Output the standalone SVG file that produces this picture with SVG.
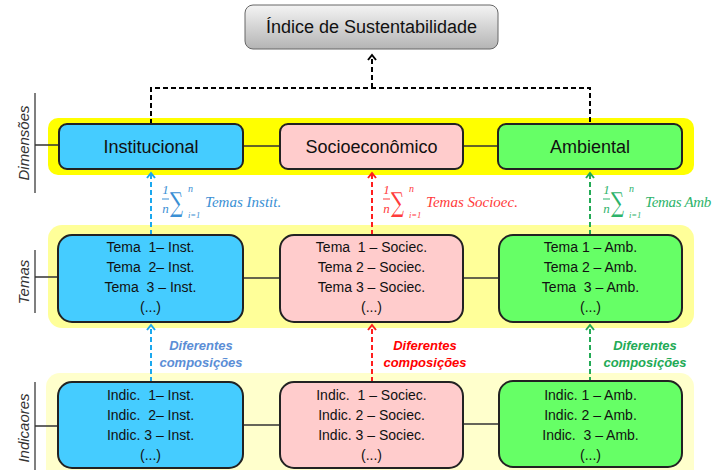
<svg xmlns="http://www.w3.org/2000/svg" width="712" height="470" viewBox="0 0 712 470">
<defs>
<linearGradient id="gGray" x1="0" y1="0" x2="0" y2="1">
<stop offset="0" stop-color="#F4F4F4"/>
<stop offset="1" stop-color="#B4B4B4"/>
</linearGradient>
<marker id="mBlack" viewBox="-1 -1 8 10" refX="5" refY="4" markerWidth="8" markerHeight="10" markerUnits="userSpaceOnUse" orient="auto"><path d="M0,0 L5,4 L0,8" fill="none" stroke="#000" stroke-width="2"/></marker>
<marker id="mBlue" viewBox="-1 -1 8 10" refX="5" refY="4" markerWidth="8" markerHeight="10" markerUnits="userSpaceOnUse" orient="auto"><path d="M0,0 L5,4 L0,8" fill="none" stroke="#1AA8EE" stroke-width="2"/></marker>
<marker id="mRed" viewBox="-1 -1 8 10" refX="5" refY="4" markerWidth="8" markerHeight="10" markerUnits="userSpaceOnUse" orient="auto"><path d="M0,0 L5,4 L0,8" fill="none" stroke="#FF1E1E" stroke-width="2"/></marker>
<marker id="mGreen" viewBox="-1 -1 8 10" refX="5" refY="4" markerWidth="8" markerHeight="10" markerUnits="userSpaceOnUse" orient="auto"><path d="M0,0 L5,4 L0,8" fill="none" stroke="#22AA55" stroke-width="2"/></marker>
</defs>
<style>
.band1{fill:#FFFF00}
.band2{fill:#FFFF99}
.band3{fill:#FFFFCC}
.box{stroke:#222;stroke-width:2}
.blue{fill:#45CCFF}
.pink{fill:#FFCCCC}
.green{fill:#66FF66}
.dim{font-family:"Liberation Sans",Arial,sans-serif;font-size:18px;fill:#111;text-anchor:middle}
.ln{font-family:"Liberation Sans",Arial,sans-serif;font-size:14px;fill:#111;text-anchor:middle;white-space:pre}
.ax{font-family:"Liberation Sans",Arial,sans-serif;font-size:15px;font-style:italic;fill:#333;text-anchor:middle}
.axl{stroke:#555;stroke-width:1.5;fill:none}
.conn{stroke:#333;stroke-width:1.5;fill:none}
.dash{fill:none;stroke-width:2;stroke-dasharray:5 3}
.f{font-family:"Liberation Serif","DejaVu Serif",serif;font-style:italic}
.sig{font-family:"DejaVu Serif",serif;font-size:26px}
.comp{font-family:"Liberation Sans",Arial,sans-serif;font-size:13px;font-weight:bold;font-style:italic;text-anchor:middle}
</style>

<!-- top node -->
<g id="indice">
<rect x="245" y="5" width="253" height="44" rx="8" fill="url(#gGray)" stroke="#666" stroke-width="1"/>
<text class="dim" x="371.5" y="33" fill="#222">Índice de Sustentabilidade</text>
</g>

<!-- bands -->
<rect class="band1" x="48" y="118" width="646" height="57" rx="10"/>
<rect class="band2" x="48" y="225" width="646" height="103" rx="14"/>
<rect class="band3" x="46" y="373" width="648" height="110" rx="14"/>

<!-- axis labels -->
<g id="axis-dimensoes">
<path class="axl" d="M35,93 V193"/>
<text class="ax" transform="translate(29,143) rotate(-90)">Dimensões</text>
</g>
<g id="axis-temas">
<path class="axl" d="M35,250 V313"/>
<text class="ax" transform="translate(29,282) rotate(-90)">Temas</text>
</g>
<g id="axis-indicadores">
<path class="axl" d="M35,382 V470"/>
<text class="ax" transform="translate(29,428) rotate(-90)">Indicaores</text>
</g>

<!-- connectors -->
<g id="connectors">
<path class="conn" d="M35,145 H59 M243,146 H280 M463,146 H498"/>
<path class="conn" d="M35,277 H58 M243,278 H280 M463,278 H499"/>
<path class="conn" d="M35,426 H58 M243,425 H280 M463,424 H499"/>
<path class="dash" stroke="#000" d="M151,124 V88 H590 V124"/>
<path class="dash" stroke="#000" d="M372,88 V55" marker-end="url(#mBlack)"/>
<path class="dash" stroke="#1AA8EE" d="M151,235 V173" marker-end="url(#mBlue)"/>
<path class="dash" stroke="#FF1E1E" d="M372,235 V173" marker-end="url(#mRed)"/>
<path class="dash" stroke="#22AA55" d="M590,235 V173" marker-end="url(#mGreen)"/>
<path class="dash" stroke="#1AA8EE" d="M151,382 V325" marker-end="url(#mBlue)"/>
<path class="dash" stroke="#FF1E1E" d="M372,382 V325" marker-end="url(#mRed)"/>
<path class="dash" stroke="#22AA55" d="M590,382 V325" marker-end="url(#mGreen)"/>
</g>

<!-- formulas -->
<g id="formula-inst" transform="translate(162,0)" fill="#3A8FD4">
<text class="f" x="3.5" y="194" font-size="13" font-style="normal" text-anchor="middle">1</text>
<path d="M0,199 H7" stroke="#3A8FD4" stroke-width="1"/>
<text class="f" x="3.5" y="213" font-size="13" text-anchor="middle">n</text>
<text class="sig" transform="translate(8,212) scale(0.7,1.05)">∑</text>
<text class="f" x="26" y="192" font-size="10">n</text>
<text class="f" x="26" y="218" font-size="8.5">i=1</text>
<text class="f" x="43" y="207" font-size="15">Temas Instit.</text>
</g>
<g id="formula-soc" transform="translate(383,0)" fill="#FF3B3B">
<text class="f" x="3.5" y="194" font-size="13" font-style="normal" text-anchor="middle">1</text>
<path d="M0,199 H7" stroke="#FF3B3B" stroke-width="1"/>
<text class="f" x="3.5" y="213" font-size="13" text-anchor="middle">n</text>
<text class="sig" transform="translate(8,212) scale(0.7,1.05)">∑</text>
<text class="f" x="26" y="192" font-size="10">n</text>
<text class="f" x="26" y="218" font-size="8.5">i=1</text>
<text class="f" x="43" y="207" font-size="15">Temas Socioec.</text>
</g>
<g id="formula-amb" transform="translate(603,0)" fill="#2DB36A">
<text class="f" x="3.5" y="194" font-size="13" font-style="normal" text-anchor="middle">1</text>
<path d="M0,199 H7" stroke="#2DB36A" stroke-width="1"/>
<text class="f" x="3.5" y="213" font-size="13" text-anchor="middle">n</text>
<text class="sig" transform="translate(8,212) scale(0.7,1.05)">∑</text>
<text class="f" x="26" y="192" font-size="10">n</text>
<text class="f" x="26" y="218" font-size="8.5">i=1</text>
<text class="f" x="42" y="207" font-size="15" letter-spacing="-0.3">Temas Amb</text>
</g>

<!-- composition labels -->
<g id="comp-inst" class="comp" fill="#5B8ED6">
<text x="201" y="350">Diferentes</text><text x="201" y="367">composições</text>
</g>
<g id="comp-soc" class="comp" fill="#FF0000">
<text x="425" y="350">Diferentes</text><text x="425" y="367">composições</text>
</g>
<g id="comp-amb" class="comp" fill="#22AA55">
<text x="645" y="350">Diferentes</text><text x="645" y="367">composições</text>
</g>

<!-- dimension nodes -->
<g id="dim-inst"><rect class="box blue" x="59" y="124" width="184" height="45" rx="8"/><text class="dim" x="151" y="153">Institucional</text></g>
<g id="dim-soc"><rect class="box pink" x="280" y="124" width="183" height="45" rx="8"/><text class="dim" x="371.5" y="153">Socioeconômico</text></g>
<g id="dim-amb"><rect class="box green" x="498" y="124" width="184" height="45" rx="8"/><text class="dim" x="590" y="153">Ambiental</text></g>

<!-- tema nodes -->
<g id="tema-inst"><rect class="box blue" x="58" y="235" width="185" height="87" rx="14"/>
<text class="ln" x="150.5" y="252">Tema  1– Inst.</text><text class="ln" x="150.5" y="272">Tema  2– Inst.</text><text class="ln" x="150.5" y="292">Tema  3 – Inst.</text><text class="ln" x="150.5" y="312">(...)</text></g>
<g id="tema-soc"><rect class="box pink" x="280" y="235" width="183" height="87" rx="14"/>
<text class="ln" x="371.5" y="252">Tema  1 – Sociec.</text><text class="ln" x="371.5" y="272">Tema 2 – Sociec.</text><text class="ln" x="371.5" y="292">Tema 3 – Sociec.</text><text class="ln" x="371.5" y="312">(...)</text></g>
<g id="tema-amb"><rect class="box green" x="499" y="235" width="183" height="87" rx="14"/>
<text class="ln" x="590.5" y="252">Tema 1 – Amb.</text><text class="ln" x="590.5" y="272">Tema 2 – Amb.</text><text class="ln" x="590.5" y="292">Tema  3 – Amb.</text><text class="ln" x="590.5" y="312">(...)</text></g>

<!-- indicator nodes -->
<g id="indic-inst"><rect class="box blue" x="58" y="382" width="185" height="86" rx="14"/>
<text class="ln" x="150.5" y="400">Indic.  1– Inst.</text><text class="ln" x="150.5" y="420">Indic.  2– Inst.</text><text class="ln" x="150.5" y="440">Indic. 3 – Inst.</text><text class="ln" x="150.5" y="460">(...)</text></g>
<g id="indic-soc"><rect class="box pink" x="280" y="382" width="183" height="86" rx="14"/>
<text class="ln" x="371.5" y="400">Indic.  1 – Sociec.</text><text class="ln" x="371.5" y="420">Indic. 2 – Sociec.</text><text class="ln" x="371.5" y="440">Indic. 3 – Sociec.</text><text class="ln" x="371.5" y="460">(...)</text></g>
<g id="indic-amb"><rect class="box green" x="499" y="381" width="183" height="86" rx="14"/>
<text class="ln" x="590.5" y="400">Indic. 1 – Amb.</text><text class="ln" x="590.5" y="420">Indic. 2 – Amb.</text><text class="ln" x="590.5" y="440">Indic.  3 – Amb.</text><text class="ln" x="590.5" y="460">(...)</text></g>
</svg>
